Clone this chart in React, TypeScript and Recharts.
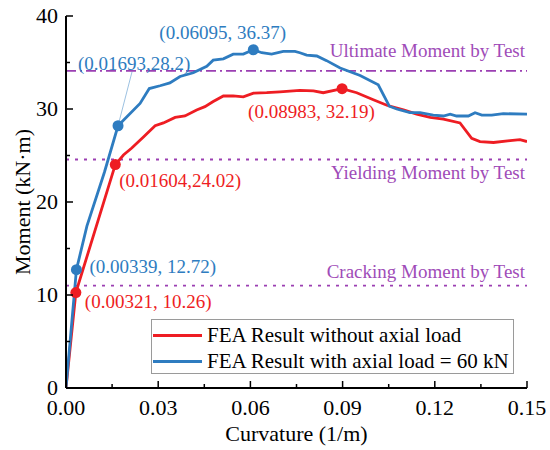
import React from "react";
import { ComposedChart, Line, Scatter, XAxis, YAxis, ReferenceLine, Legend } from "recharts";

// curvature (1/m), moment (kN·m)
const redCurve: [number, number][] = [
  [0, 0], [0.00321, 10.26], [0.01604, 24.02], [0.0187, 25.05], [0.0214, 25.8],
  [0.0252, 27.0], [0.029, 28.2], [0.0317, 28.5], [0.0355, 29.1], [0.0387, 29.25],
  [0.0425, 29.9], [0.0452, 30.25], [0.0479, 30.8], [0.0512, 31.4], [0.0544, 31.4],
  [0.0577, 31.3], [0.061, 31.7], [0.0653, 31.75], [0.0696, 31.85], [0.0761, 32.0],
  [0.0805, 31.95], [0.0837, 31.75], [0.08983, 32.19], [0.0946, 31.75], [0.1, 31.0],
  [0.1044, 30.4], [0.1098, 29.9], [0.1141, 29.45], [0.1185, 29.1], [0.1228, 28.9],
  [0.1282, 28.5], [0.132, 26.85], [0.1347, 26.5], [0.1391, 26.4], [0.1445, 26.6],
  [0.1477, 26.7], [0.15, 26.5],
];

const blueCurve: [number, number][] = [
  [0, 0], [0.00339, 12.72], [0.0068, 17.4], [0.0125, 23.2], [0.01693, 28.2],
  [0.0241, 30.6], [0.0271, 32.2], [0.0306, 32.5], [0.0338, 32.8], [0.0371, 33.5],
  [0.0414, 33.9], [0.0458, 34.6], [0.0479, 35.25], [0.0512, 35.4], [0.0544, 35.9],
  [0.0577, 35.9], [0.06095, 36.37], [0.0637, 36.05], [0.0669, 35.9], [0.0707, 36.2],
  [0.0745, 36.2], [0.0761, 36.05], [0.0783, 35.8], [0.0816, 35.7], [0.0848, 35.2],
  [0.0892, 34.4], [0.0957, 33.6], [0.1016, 32.6], [0.1052, 30.3], [0.1076, 30.0],
  [0.1119, 29.6], [0.1152, 29.6], [0.1195, 29.35], [0.1228, 29.25], [0.125, 29.45],
  [0.1271, 29.25], [0.1309, 29.25], [0.1331, 29.6], [0.1353, 29.35], [0.1385, 29.35],
  [0.1423, 29.5], [0.15, 29.45],
];

const redMarkers: [number, number][] = [[0.00321, 10.26], [0.01604, 24.02], [0.08983, 32.19]];
const redMarkerLabels = ["(0.00321, 10.26)", "(0.01604,24.02)", "(0.08983, 32.19)"];
const blueMarkers: [number, number][] = [[0.00339, 12.72], [0.01693, 28.2], [0.06095, 36.37]];
const blueMarkerLabels = ["(0.00339, 12.72)", "(0.01693,28.2)", "(0.06095, 36.37)"];

const testMomentNames = ["Ultimate Moment by Test", "Yielding Moment by Test", "Cracking Moment by Test"];
const testMomentValues = [34.1, 24.57, 11.0];

const seriesNames = ["FEA Result without axial load", "FEA Result with axial load = 60 kN"];

const xTicks = [0, 0.015, 0.03, 0.045, 0.06, 0.075, 0.09, 0.105, 0.12, 0.135, 0.15];
const yTicks = [0, 5, 10, 15, 20, 25, 30, 35, 40];

const FONT = '"Liberation Serif", "Times New Roman", serif';
const RED = "#ee1d23";
const BLUE = "#2e7cc0";
const PURPLE = "#9b3fb2";
const PURPLE_TEXT = "#a04cb8";

// label placement relative to each marker
const redLabelOffsets = [{ dx: 9, dy: 15 }, { dx: 4, dy: 22 }, { dx: -94, dy: 29 }];
const blueLabelOffsets = [{ dx: 13, dy: 3 }, { dx: -40, dy: -56, leader: true }, { dx: -94, dy: -11 }];
const refLineStyles = [
  { dash: "10 4 2 4", labelDy: -14 },
  { dash: "3 6", labelDy: 20 },
  { dash: "3 6", labelDy: -8 },
];

const toPoints = (arr: [number, number][]) => arr.map(([x, y]) => ({ x, y }));
const isMajor = (v: number, step: number) => {
  const r = v / step;
  return Math.abs(r - Math.round(r)) < 1e-6;
};

function BottomTick({ x, y, payload }: any) {
  const major = isMajor(payload.value, 0.03);
  return (
    <g>
      <line x1={x} x2={x} y1={y} y2={y - (major ? 7 : 4)} stroke="#000" strokeWidth={1.5} />
      {major && (
        <text x={x} y={y + 27} textAnchor="middle" fontSize={22} fontFamily={FONT} fill="#000">
          {payload.value.toFixed(2)}
        </text>
      )}
    </g>
  );
}

function TopTick({ x, y, payload }: any) {
  const major = isMajor(payload.value, 0.03);
  return <line x1={x} x2={x} y1={y} y2={y + (major ? 7 : 4)} stroke="#000" strokeWidth={1.5} />;
}

function LeftTick({ x, y, payload }: any) {
  const major = isMajor(payload.value, 10);
  return (
    <g>
      <line x1={x} x2={x + (major ? 7 : 4)} y1={y} y2={y} stroke="#000" strokeWidth={1.5} />
      {major && (
        <text x={x - 8} y={y + 6.5} textAnchor="end" fontSize={22} fontFamily={FONT} fill="#000">
          {payload.value}
        </text>
      )}
    </g>
  );
}

function RightTick({ x, y, payload }: any) {
  const major = isMajor(payload.value, 10);
  return <line x1={x} x2={x - (major ? 7 : 4)} y1={y} y2={y} stroke="#000" strokeWidth={1.5} />;
}

function makeMarker(color: string, labels: string[], offsets: any[]) {
  return (p: any) => {
    const i = p.index ?? 0;
    const off = offsets[i];
    return (
      <g>
        {off.leader && (
          <line x1={p.cx} y1={p.cy} x2={p.cx + 14} y2={p.cy - 54} stroke={BLUE} strokeOpacity={0.6} strokeWidth={0.8} />
        )}
        <circle cx={p.cx} cy={p.cy} r={5.5} fill={color} />
        <text x={p.cx + off.dx} y={p.cy + off.dy} fontSize={19} fontFamily={FONT} fill={color}>
          {labels[i]}
        </text>
      </g>
    );
  };
}

function refLabel(text: string, dy: number) {
  return (props: any) => {
    const vb = props.viewBox || {};
    return (
      <text x={vb.x + vb.width - 2} y={vb.y + dy} textAnchor="end" fontSize={19} fontFamily={FONT} fill={PURPLE_TEXT}>
        {text}
      </text>
    );
  };
}

function ChartLegend() {
  const colors = [RED, BLUE];
  return (
    <div
      style={{
        width: 363,
        height: 55,
        boxSizing: "border-box",
        border: "1px solid #9a9a9a",
        background: "#fff",
        paddingTop: 2,
        fontFamily: FONT,
        fontSize: 21,
        color: "#000",
      }}
    >
      {seriesNames.map((name, i) => (
        <div key={name} style={{ display: "flex", alignItems: "center", height: 26, whiteSpace: "nowrap" }}>
          <span style={{ display: "inline-block", width: 49, height: 3, background: colors[i], marginLeft: 1, marginRight: 5 }} />
          {name}
        </div>
      ))}
    </div>
  );
}

export default function App() {
  return (
    <div style={{ width: 550, height: 450, background: "#fff", position: "relative" }}>
      <style>{"body{margin:0}"}</style>
      <ComposedChart width={550} height={450} margin={{ top: 16, right: 23, bottom: 0, left: 0 }}>
        <XAxis
          dataKey="x"
          type="number"
          domain={[0, 0.15]}
          ticks={xTicks}
          interval={0}
          height={62}
          tickSize={0}
          tickMargin={0}
          tickLine={false}
          axisLine={{ stroke: "#000", strokeWidth: 2 }}
          tick={<BottomTick />}
          allowDataOverflow
          label={{
            content: (p: any) => {
              const vb = p.viewBox || { x: 66, y: 388, width: 461 };
              return (
                <text x={vb.x + vb.width / 2} y={vb.y + 53} textAnchor="middle" fontSize={22} fontFamily={FONT} fill="#000">
                  Curvature (1/m)
                </text>
              );
            },
          }}
        />
        <XAxis
          xAxisId="top"
          orientation="top"
          type="number"
          domain={[0, 0.15]}
          ticks={xTicks}
          interval={0}
          height={0}
          tickSize={0}
          tickMargin={0}
          tickLine={false}
          axisLine={{ stroke: "#000", strokeWidth: 2 }}
          tick={<TopTick />}
          allowDataOverflow
        />
        <YAxis
          type="number"
          domain={[0, 40]}
          ticks={yTicks}
          interval={0}
          width={66}
          tickSize={0}
          tickMargin={0}
          tickLine={false}
          axisLine={{ stroke: "#000", strokeWidth: 2 }}
          tick={<LeftTick />}
          allowDataOverflow
          label={{
            content: (p: any) => {
              const vb = p.viewBox || { x: 0, y: 16, height: 372 };
              const cx = vb.x + 22;
              const cy = vb.y + vb.height / 2;
              return (
                <text x={cx} y={cy} transform={`rotate(-90 ${cx} ${cy})`} textAnchor="middle" dominantBaseline="central" fontSize={22} fontFamily={FONT} fill="#000">
                  Moment (kN·m)
                </text>
              );
            },
          }}
        />
        <YAxis
          yAxisId="right"
          orientation="right"
          type="number"
          domain={[0, 40]}
          ticks={yTicks}
          interval={0}
          width={0}
          tickSize={0}
          tickMargin={0}
          tickLine={false}
          axisLine={{ stroke: "#000", strokeWidth: 2 }}
          tick={<RightTick />}
          allowDataOverflow
        />
        {testMomentValues.map((v, i) => (
          <ReferenceLine
            key={testMomentNames[i]}
            y={v}
            stroke={PURPLE}
            strokeWidth={1.8}
            strokeDasharray={refLineStyles[i].dash}
            label={{ content: refLabel(testMomentNames[i], refLineStyles[i].labelDy) }}
          />
        ))}
        <Line
          data={toPoints(redCurve)}
          dataKey="y"
          name={seriesNames[0]}
          type="linear"
          stroke={RED}
          strokeWidth={2.8}
          dot={false}
          isAnimationActive={false}
        />
        <Line
          data={toPoints(blueCurve)}
          dataKey="y"
          name={seriesNames[1]}
          type="linear"
          stroke={BLUE}
          strokeWidth={2.8}
          dot={false}
          isAnimationActive={false}
        />
        <Scatter
          data={toPoints(redMarkers)}
          dataKey="y"
          fill={RED}
          isAnimationActive={false}
          legendType="none"
          shape={makeMarker(RED, redMarkerLabels, redLabelOffsets)}
        />
        <Scatter
          data={toPoints(blueMarkers)}
          dataKey="y"
          fill={BLUE}
          isAnimationActive={false}
          legendType="none"
          shape={makeMarker(BLUE, blueMarkerLabels, blueLabelOffsets)}
        />
        <Legend
          layout="vertical"
          align="center"
          verticalAlign="middle"
          content={() => <ChartLegend />}
          wrapperStyle={{ position: "absolute", left: 151, top: 319, width: 363, height: 55 }}
        />
      </ComposedChart>
    </div>
  );
}
